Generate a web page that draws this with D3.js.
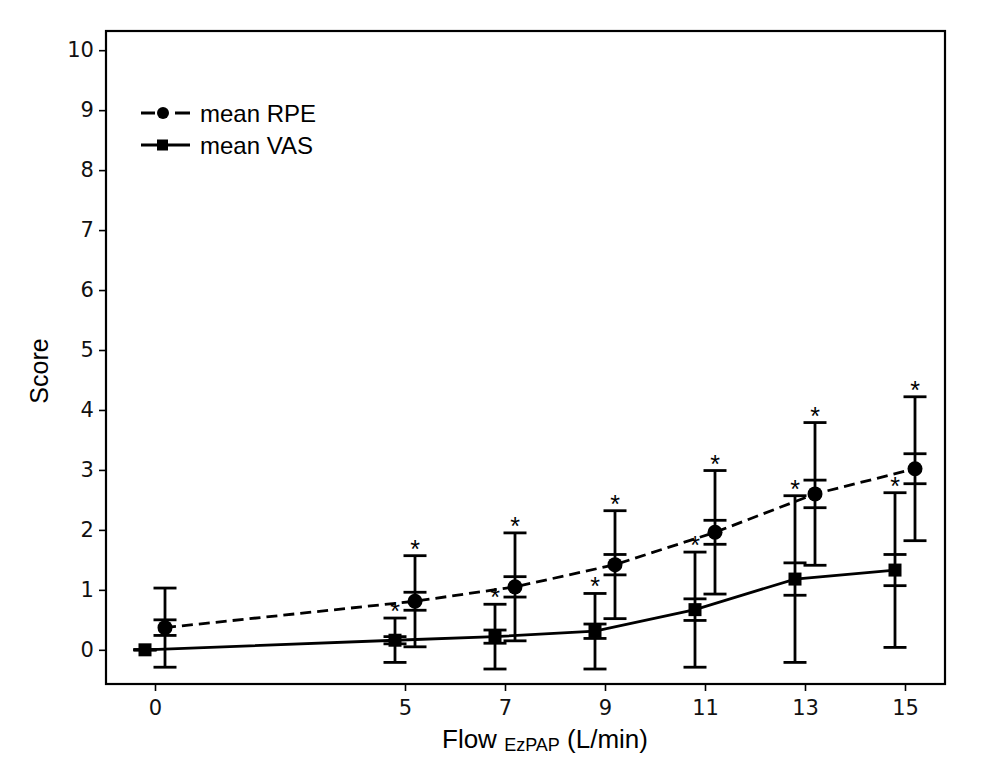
<!DOCTYPE html>
<html>
<head>
<meta charset="utf-8">
<script src="https://cdn.jsdelivr.net/npm/d3@7"></script>
<style>
    body { margin: 0; background: #fff; }
    svg { display: block; }
</style>
</head>
<body>
<svg id="chart" width="997" height="761"></svg>
<script>
// flow settings (L/min)
const flows = [0, 5, 7, 9, 11, 13, 15];
const xTicks = [0, 5, 7, 9, 11, 13, 15];
const yTicks = [0, 1, 2, 3, 4, 5, 6, 7, 8, 9, 10];

// mean RPE with outer (SD) and inner (SEM) bars
const rpeMean = [0.37, 0.81, 1.05, 1.42, 1.96, 2.60, 3.02];
const rpeSd = [0.66, 0.76, 0.90, 0.90, 1.03, 1.19, 1.20];
const rpeSem = [0.13, 0.15, 0.17, 0.17, 0.20, 0.23, 0.25];
const rpeSig = [false, true, true, true, true, true, true];

// mean VAS
const vasMean = [0.00, 0.16, 0.22, 0.31, 0.67, 1.18, 1.33];
const vasSd = [0.00, 0.37, 0.54, 0.63, 0.96, 1.39, 1.29];
const vasSem = [0.00, 0.06, 0.11, 0.12, 0.18, 0.27, 0.26];
const vasSig = [false, true, true, true, true, true, true];

const margin = {top: 31, right: 52, bottom: 77, left: 106};
const width = 997, height = 761;
const font = "Liberation Sans, Arial, sans-serif";

const svg = d3.select("#chart");

const x = d3.scaleLinear().domain([-0.98, 15.8]).range([margin.left, width - margin.right]);
const y = d3.scaleLinear().domain([-0.57, 10.32]).range([height - margin.bottom, margin.top]);

const dodge = 0.2; // horizontal offset so the two series don't overlap
const capW = 11.5;
const lw = 2.8;

const series = [
    {name: "mean RPE", mean: rpeMean, sd: rpeSd, sem: rpeSem, sig: rpeSig, shift: dodge, dash: "11,6", marker: "circle"},
    {name: "mean VAS", mean: vasMean, sd: vasSd, sem: vasSem, sig: vasSig, shift: -dodge, dash: null, marker: "square"}
];

// axes
const xAxis = svg.append("g")
    .attr("transform", `translate(0,${height - margin.bottom})`)
    .call(d3.axisBottom(x).tickValues(xTicks).tickSize(7).tickSizeOuter(0));
const yAxis = svg.append("g")
    .attr("transform", `translate(${margin.left},0)`)
    .call(d3.axisLeft(y).tickValues(yTicks).tickSize(7).tickSizeOuter(0));

[xAxis, yAxis].forEach(ax => {
    ax.select(".domain").remove();
    ax.selectAll(".tick line").attr("stroke", "#000").attr("stroke-width", 1.6);
    ax.selectAll(".tick text")
        .attr("fill", "#111")
        .style("font-family", "DejaVu Sans, sans-serif")
        .style("font-size", "21px");
});
xAxis.selectAll(".tick text").attr("dy", "0.98em");
yAxis.selectAll(".tick text").attr("dx", "-0.1em");

// frame
svg.append("rect")
    .attr("x", margin.left).attr("y", margin.top)
    .attr("width", width - margin.left - margin.right)
    .attr("height", height - margin.top - margin.bottom)
    .attr("fill", "none").attr("stroke", "#000").attr("stroke-width", 2.2);

series.forEach(s => {
    const g = svg.append("g");
    const pts = flows.map((f, i) => ({f: f + s.shift, m: s.mean[i], sd: s.sd[i], sem: s.sem[i], sig: s.sig[i]}));

    // connecting line
    g.append("path")
        .datum(pts)
        .attr("fill", "none")
        .attr("stroke", "#000")
        .attr("stroke-width", lw)
        .attr("stroke-dasharray", s.dash)
        .attr("d", d3.line().x(d => x(d.f)).y(d => y(d.m)));

    // error bars
    pts.forEach(d => {
        const cx = x(d.f);
        g.append("line")
            .attr("x1", cx).attr("x2", cx)
            .attr("y1", y(d.m - d.sd)).attr("y2", y(d.m + d.sd))
            .attr("stroke", "#000").attr("stroke-width", lw);
        [d.m - d.sd, d.m + d.sd, d.m - d.sem, d.m + d.sem].forEach(v => {
            g.append("line")
                .attr("x1", cx - capW).attr("x2", cx + capW)
                .attr("y1", y(v)).attr("y2", y(v))
                .attr("stroke", "#000").attr("stroke-width", lw);
        });
        if (d.sig) {
            g.append("text")
                .attr("x", cx).attr("y", y(d.m + d.sd) + 2)
                .attr("text-anchor", "middle")
                .style("font-family", font)
                .style("font-size", "25px")
                .text("*");
        }
    });

    // markers
    if (s.marker === "circle") {
        g.selectAll("circle").data(pts).enter().append("circle")
            .attr("cx", d => x(d.f)).attr("cy", d => y(d.m)).attr("r", 7.5).attr("fill", "#000");
    } else {
        g.selectAll("rect").data(pts).enter().append("rect")
            .attr("x", d => x(d.f) - 6.5).attr("y", d => y(d.m) - 6.5)
            .attr("width", 13).attr("height", 13).attr("fill", "#000");
    }
});

// legend
const legend = svg.append("g");
series.forEach((s, i) => {
    const ly = 113 + i * 32;
    legend.append("line")
        .attr("x1", 141).attr("x2", 190).attr("y1", ly).attr("y2", ly)
        .attr("stroke", "#000").attr("stroke-width", lw)
        .attr("stroke-dasharray", s.dash ? "14,20,15" : null);
    if (s.marker === "circle") {
        legend.append("circle").attr("cx", 163).attr("cy", ly).attr("r", 6).attr("fill", "#000");
    } else {
        legend.append("rect").attr("x", 157).attr("y", ly - 5.5).attr("width", 11).attr("height", 11).attr("fill", "#000");
    }
    legend.append("text")
        .attr("x", 200).attr("y", ly).attr("dy", "0.36em")
        .style("font-family", font)
        .style("font-size", "24px")
        .text(s.name);
});

// axis titles
const xTitle = svg.append("text")
    .attr("x", 442).attr("y", 748)
    .style("font-family", font)
    .style("font-size", "26px");
xTitle.append("tspan").text("Flow ");
xTitle.append("tspan").attr("dy", 3).style("font-size", "18px").text("EzPAP");
xTitle.append("tspan").attr("dy", -3).text(" (L/min)");

svg.append("text")
    .attr("transform", `translate(48,371) rotate(-90)`)
    .attr("text-anchor", "middle")
    .style("font-family", font)
    .style("font-size", "25px")
    .text("Score");
</script>
</body>
</html>
